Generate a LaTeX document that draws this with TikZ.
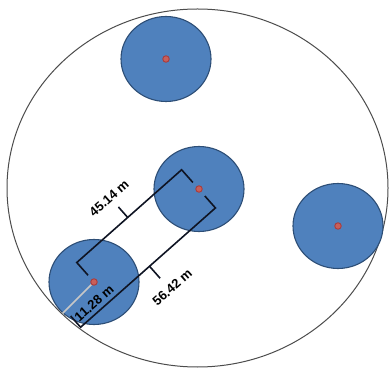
\documentclass[tikz,border=0pt]{standalone}
\usepackage{fontspec}
\setmainfont{Liberation Sans}
\usetikzlibrary{shapes.geometric, positioning, calc}
\definecolor{plotblue}{RGB}{79,129,189}
\definecolor{plotedge}{RGB}{45,78,118}
\definecolor{stemred}{RGB}{200,95,90}
\definecolor{stemedge}{RGB}{170,60,60}
\definecolor{dimcol}{RGB}{15,20,35}

\begin{document}
\begin{tikzpicture}[x=1pt, y=1pt,
        plot/.style={ellipse, draw=plotedge, line width=1.1pt, fill=plotblue, minimum width=90, minimum height=85, inner sep=0pt},
        stem/.style={circle, draw=stemedge, fill=stemred, line width=0.9pt, minimum size=6.5, inner sep=0pt},
        dimline/.style={draw=dimcol, line width=1.6pt},
        dimlabel/.style={font=\bfseries\fontsize{13}{15}\selectfont, rotate=41.5, inner sep=1pt}]
        \useasboundingbox (0,0) rectangle (390,369);

        % Stand boundary
        \node[ellipse, draw=black!70, line width=1pt, minimum width=381, minimum height=358] (stand) at (197.5,181) {};

        % Plots
        \node[plot] (pT) at (166,310) {};
        \node[plot] (pB) at (199,180) {};
        \node[plot] (pR) at (338,143) {};
        \node[plot] (pA) at (94,87) {};

        % Plot radius
        \draw[black!22, line width=1.6pt] (pA.center) -- (pA.225);

        % Dimension lines (along the axis from plot A to plot B)
        \begin{scope}[shift={(pA.center)}, rotate=41.5]
            \coordinate (d1a) at (0,9);
            \coordinate (d1b) at (0,26);
            \coordinate (d1m) at (68,26);
            \coordinate (d1t) at (68,40);
            \coordinate (d1c) at (140,26);
            \coordinate (d1d) at (140,9);
            \coordinate (d2a) at (-40,-10);
            \coordinate (d2b) at (-40,-25);
            \coordinate (d2m) at (52,-25);
            \coordinate (d2t) at (52,-41);
            \coordinate (d2c) at (140,-25);
            \coordinate (d2d) at (140,-9);
            \coordinate (l1) at (67,53);
            \coordinate (l2) at (55,-56);
            \coordinate (l3) at (-14,-16);
        \end{scope}
        \draw[dimline] (d1a) -- (d1b) -- (d1m) -- (d1c) -- (d1d);
        \draw[dimline] (d1m) -- (d1t);
        \draw[dimline] (d2a) -- (d2b) -- (d2m) -- (d2c) -- (d2d);
        \draw[dimline] (d2m) -- (d2t);

        % Plot centres
        \node[stem] (cT) at (pT) {};
        \node[stem] (cB) at (pB) {};
        \node[stem] (cR) at (pR) {};
        \node[stem] (cA) at (pA) {};

        % Labels
        \node[dimlabel] (lab1) at (l1) {45.14 m};
        \node[dimlabel] (lab2) at (l2) {56.42 m};
        \node[dimlabel] (lab3) at (l3) {11.28 m};
    \end{tikzpicture}
\end{document}
